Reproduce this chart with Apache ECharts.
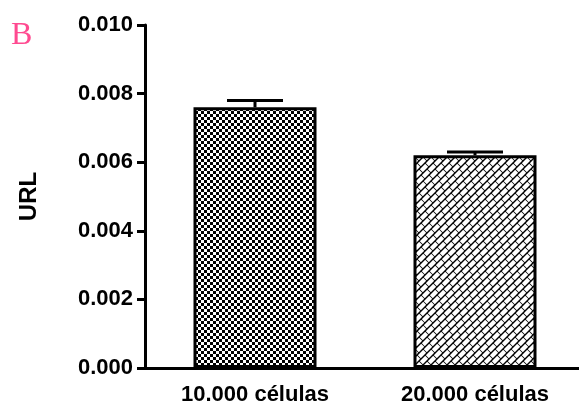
<!DOCTYPE html>
<html>
<head>
<meta charset="utf-8">
<script src="https://cdn.jsdelivr.net/npm/echarts@6/dist/echarts.min.js"></script>
<style>
html,body{margin:0;padding:0;background:#fff;}
#chart{width:579px;height:405px;}
</style>
</head>
<body>
<div id="chart"></div>
<script>
// Data
var categories = ['10.000 células', '20.000 células'];
var means = [0.0076, 0.0062];
var errorUpper = [0.0078, 0.0063];
var yTicks = { min: 0, max: 0.010, interval: 0.002 };
var yName = 'URL';
var panelLabel = 'B';

function checkerPattern() {
  var c = document.createElement('canvas');
  c.width = 6; c.height = 6;
  var g = c.getContext('2d');
  g.fillStyle = '#fff'; g.fillRect(0, 0, 6, 6);
  g.fillStyle = '#000';
  g.fillRect(0, 0, 3, 3);
  g.fillRect(3, 3, 3, 3);
  return c;
}
function brickPattern() {
  var W = 8, H = 24;
  var c = document.createElement('canvas');
  c.width = W; c.height = H;
  var g = c.getContext('2d');
  g.fillStyle = '#000'; g.fillRect(0, 0, W, H);
  g.strokeStyle = '#fff'; g.lineWidth = 4.2; g.lineCap = 'butt';
  var centers = [[0, 0], [2, 6], [4, 12], [6, 18]];
  var h = 2.7;
  for (var dx = -W; dx <= W; dx += W) {
    for (var dy = -H; dy <= H; dy += H) {
      centers.forEach(function (p) {
        var x = p[0] + dx, y = p[1] + dy;
        g.beginPath();
        g.moveTo(x - h, y + h);
        g.lineTo(x + h, y - h);
        g.stroke();
      });
    }
  }
  return c;
}

var patterns = [checkerPattern(), brickPattern()];

var chart = echarts.init(document.getElementById('chart'), null, { renderer: 'canvas' });
var font = 'Liberation Sans, Arial, sans-serif';

chart.setOption({
  animation: false,
  backgroundColor: '#fff',
  graphic: [{
    type: 'text', left: 11, top: 20,
    style: { text: panelLabel, fill: '#ff4a90', font: '32px "Liberation Serif", serif' }
  }],
  grid: { left: 145, right: -6, top: 25, bottom: 37, containLabel: false, outerBoundsMode: 'none' },
  xAxis: {
    type: 'category',
    data: categories,
    axisLine: { lineStyle: { color: '#000', width: 3 } },
    axisTick: { alignWithLabel: true, length: 9, lineStyle: { color: '#000', width: 3 } },
    axisLabel: { color: '#000', fontFamily: font, fontWeight: 'bold', fontSize: 22, margin: 16 },
    splitLine: { show: false }
  },
  yAxis: {
    type: 'value',
    min: yTicks.min, max: yTicks.max, interval: yTicks.interval,
    name: yName,
    nameLocation: 'middle',
    nameGap: 104,
    nameTextStyle: { color: '#000', fontFamily: font, fontWeight: 'bold', fontSize: 24 },
    axisLine: { show: true, lineStyle: { color: '#000', width: 3 } },
    axisTick: { show: true, length: 8, lineStyle: { color: '#000', width: 3 } },
    axisLabel: {
      color: '#000', fontFamily: font, fontWeight: 'bold', fontSize: 22, margin: 12,
      formatter: function (v) { return v.toFixed(3); }
    },
    splitLine: { show: false }
  },
  series: [{
    type: 'bar',
    barWidth: 123,
    data: means.map(function (v, i) {
      return {
        value: v,
        itemStyle: {
          color: { image: patterns[i], repeat: 'repeat' },
          borderColor: '#000', borderWidth: 3
        }
      };
    }),
    z: 2
  }, {
    type: 'custom',
    data: means.map(function (v, i) { return [i, v, errorUpper[i]]; }),
    renderItem: function (params, api) {
      var base = api.coord([api.value(0), api.value(1)]);
      var top = api.coord([api.value(0), api.value(2)]);
      var hw = 28;
      return {
        type: 'group',
        children: [{
          type: 'line',
          shape: { x1: base[0], y1: base[1], x2: top[0], y2: top[1] },
          style: { stroke: '#000', lineWidth: 3 }
        }, {
          type: 'line',
          shape: { x1: top[0] - hw, y1: top[1], x2: top[0] + hw, y2: top[1] },
          style: { stroke: '#000', lineWidth: 3 }
        }]
      };
    },
    z: 3
  }]
});
</script>
</body>
</html>
